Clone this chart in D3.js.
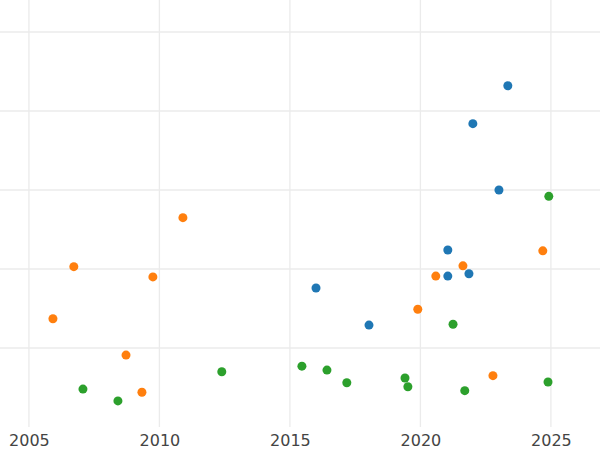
<!DOCTYPE html>
<html>
<head>
<meta charset="UTF-8">
<script src="https://d3js.org/d3.v7.min.js"></script>
<style>body{margin:0;background:#fff}</style>
</head>
<body>
<svg id="chart"></svg>
<script>
const blueX = [2023.35, 2022.01, 2023.01, 2021.05, 2021.05, 2021.86, 2016.0, 2018.03];
const blueY = [4.32, 3.84, 3.0, 2.24, 1.91, 1.94, 1.76, 1.29];
const orangeX = [2010.9, 2006.72, 2009.75, 2005.92, 2008.72, 2009.33, 2020.59, 2021.63, 2019.9, 2024.69, 2022.78];
const orangeY = [2.65, 2.03, 1.90, 1.37, 0.91, 0.44, 1.91, 2.04, 1.49, 2.23, 0.65];
const greenX = [2024.92, 2021.25, 2007.07, 2008.41, 2012.39, 2015.46, 2016.42, 2017.18, 2019.41, 2019.52, 2021.7, 2024.89];
const greenY = [2.92, 1.30, 0.48, 0.33, 0.70, 0.77, 0.72, 0.56, 0.62, 0.51, 0.46, 0.57];
const xTicks = [2005, 2010, 2015, 2020, 2025];
const yGrid = [1, 2, 3, 4, 5];

const width = 600, height = 450;
const svg = d3.select("#chart").attr("width", width).attr("height", height);

const x = d3.scaleLinear().domain([2003.93, 2026.92]).range([1, 601]);
const y = d3.scaleLinear().domain([0, 5]).range([427, 32]);

// grid
svg.selectAll(".vg").data(xTicks).enter().append("line")
  .attr("x1", d => x(d)).attr("x2", d => x(d)).attr("y1", 0).attr("y2", 427)
  .attr("stroke", "#ebebeb").attr("stroke-width", 1.3);
svg.selectAll(".hg").data(yGrid).enter().append("line")
  .attr("x1", 0).attr("x2", width).attr("y1", d => y(d)).attr("y2", d => y(d))
  .attr("stroke", "#ebebeb").attr("stroke-width", 1.3);

const axis = svg.append("g").attr("transform", "translate(0,427)")
  .call(d3.axisBottom(x).tickValues(xTicks).tickFormat(d3.format("d")).tickSize(0).tickPadding(8));
axis.select(".domain").remove();
axis.selectAll("text").attr("font-size", "16px").attr("font-family", "DejaVu Sans").attr("fill", "#444");

const series = [
  {xs: blueX, ys: blueY, color: "#1f77b4"},
  {xs: orangeX, ys: orangeY, color: "#ff7f0e"},
  {xs: greenX, ys: greenY, color: "#2ca02c"}
];
series.forEach(s => {
  svg.append("g").selectAll("circle").data(s.xs).enter().append("circle")
    .attr("cx", d => x(d)).attr("cy", (d, i) => y(s.ys[i])).attr("r", 4.5)
    .attr("fill", s.color);
});
</script>
</body>
</html>
